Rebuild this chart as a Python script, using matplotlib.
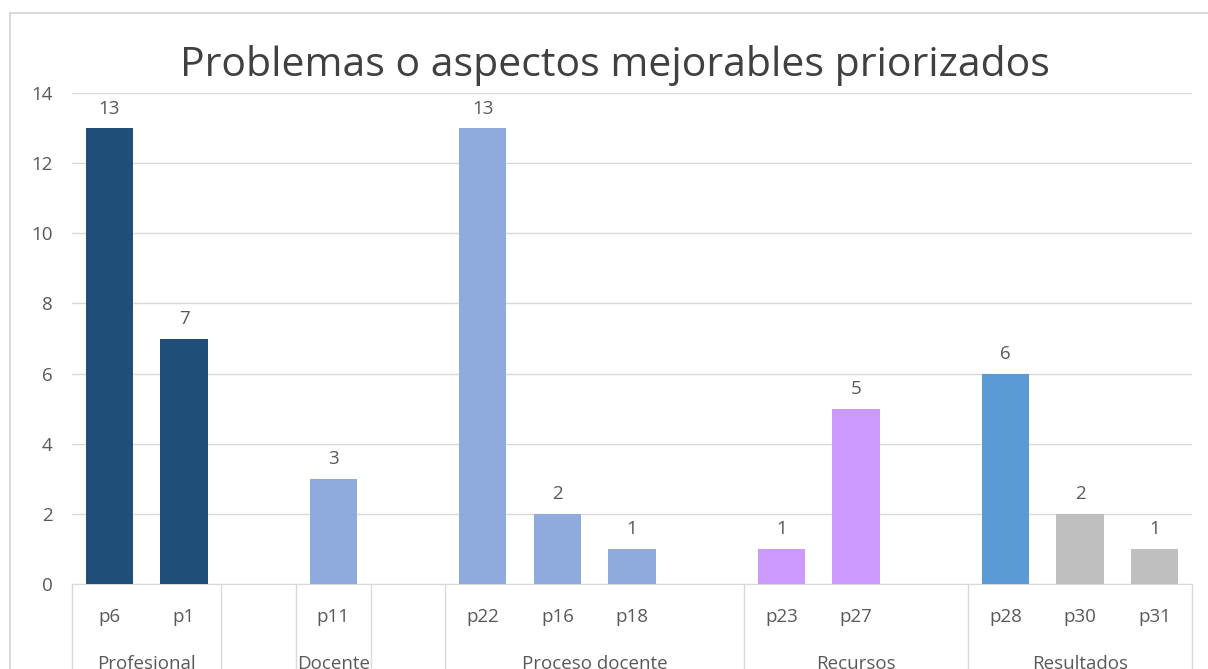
import numpy as np
import matplotlib.pyplot as plt
from matplotlib.lines import Line2D

plt.rcParams['font.family'] = ['Open Sans', 'DejaVu Sans']

## data
labels = ['p6', 'p1', '', 'p11', '', 'p22', 'p16', 'p18', '', 'p23', 'p27', '', 'p28', 'p30', 'p31']
values = [13, 7, np.nan, 3, np.nan, 13, 2, 1, np.nan, 1, 5, np.nan, 6, 2, 1]
barColors = ['#1F4E79', '#1F4E79', '#8FAADC', '#8FAADC', '#8FAADC',
             '#8FAADC', '#8FAADC', '#8FAADC', '#CC99FF', '#CC99FF', '#CC99FF', '#CC99FF',
             '#5B9BD5', '#BFBFBF', '#BFBFBF']
groups = ['Profesional', 'Docente', 'Proceso docente', 'Recursos', 'Resultados']
groupCenters = [0.5, 3, 6.5, 10, 13]
separators = [-0.5, 1.5, 2.5, 3.5, 4.5, 8.5, 11.5, 14.5]

lineCol = '#D9D9D9'
textCol = '#595959'
fs = 13.5

fig = plt.figure(figsize=(12.08, 6.69), dpi=100)
ax = fig.add_axes([72/1208, 1-584/669, (1192-72)/1208, (584-93)/669])

x = np.arange(len(labels))
vals = np.array(values, dtype=float)
ax.bar(x, np.nan_to_num(vals), width=0.63, color=barColors, zorder=3)
for xi, v in zip(x, vals):
    if not np.isnan(v):
        ax.text(xi, v + 0.3, '%d' % v, ha='center', va='bottom', fontsize=fs, color=textCol)

ax.set_xlim(-0.5, 14.5)
ax.set_ylim(0, 14)
ax.set_yticks(range(0, 15, 2))
ax.yaxis.grid(True, color=lineCol, linewidth=1)
ax.set_axisbelow(True)
for s in ['top', 'right', 'left']:
    ax.spines[s].set_visible(False)
ax.spines['bottom'].set_color(lineCol)
ax.tick_params(axis='y', length=0, labelsize=fs, labelcolor=textCol, pad=14)
ax.set_xticks([])

## category labels
trans = ax.get_xaxis_transform()
for xi, lab in zip(x, labels):
    ax.text(xi, -0.067, lab, transform=trans, ha='center', va='center',
            fontsize=fs, color=textCol, clip_on=False)
for gc, g in zip(groupCenters, groups):
    ax.text(gc, -0.162, g, transform=trans, ha='center', va='center',
            fontsize=fs, color=textCol, clip_on=False)
for sx in separators:
    ax.add_line(Line2D([sx, sx], [0, -0.3], transform=trans, color=lineCol,
                       linewidth=1, clip_on=False))

fig.text(615/1208, 1-65/669, 'Problemas o aspectos mejorables priorizados',
         ha='center', va='center', fontsize=29.5, color='#404040')

## chart frame
fig.add_artist(Line2D([10/1208, 1], [1-13/669, 1-13/669], transform=fig.transFigure,
                      color=lineCol, linewidth=1.5))
fig.add_artist(Line2D([10/1208, 10/1208], [0, 1-13/669], transform=fig.transFigure,
                      color=lineCol, linewidth=1.5))

fig.savefig('out.png', dpi=100, facecolor='white')
